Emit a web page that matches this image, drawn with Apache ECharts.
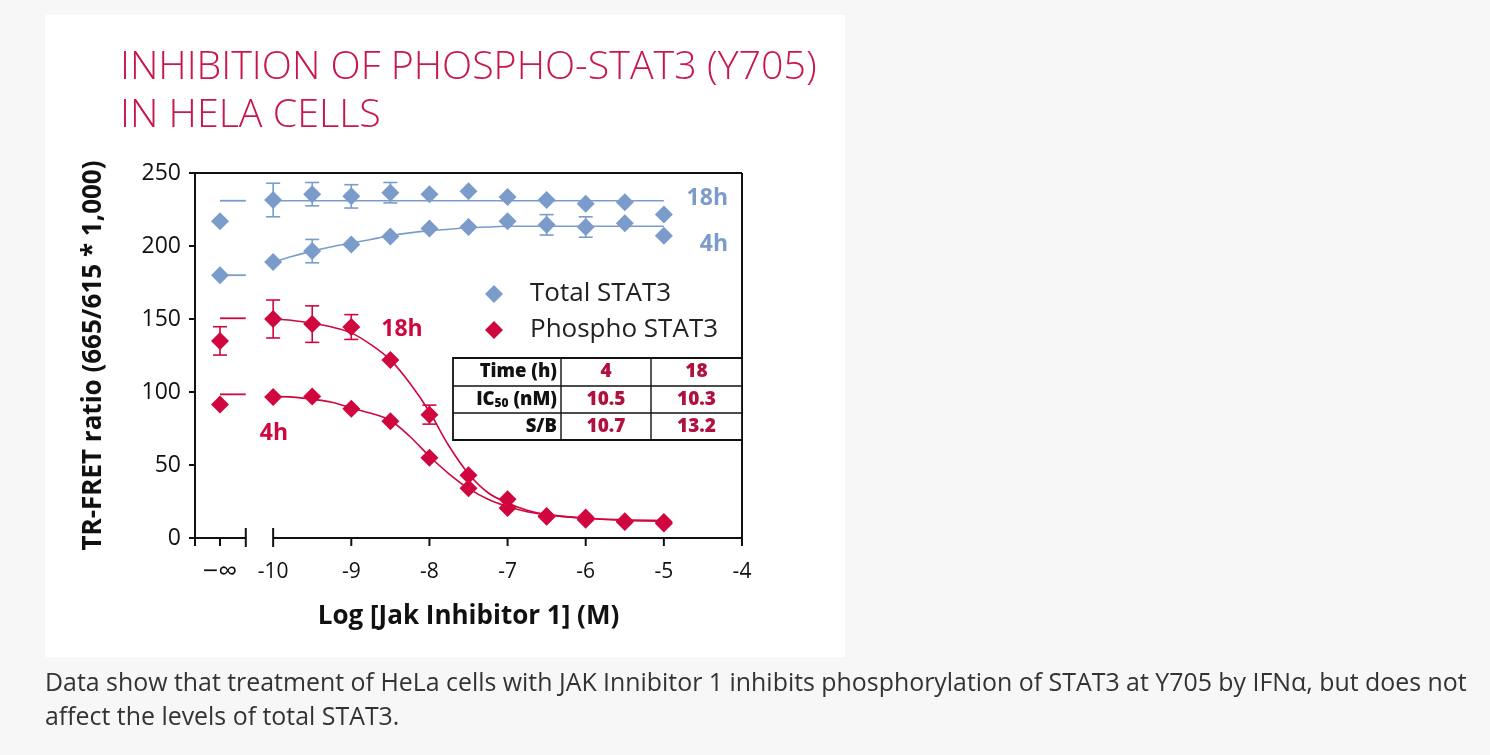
<!DOCTYPE html>
<html>
<head>
<meta charset="utf-8">
<script src="https://cdn.jsdelivr.net/npm/echarts@6/dist/echarts.min.js"></script>
<style>
html,body{margin:0;padding:0;background:#f7f7f7;}
#chart{width:1490px;height:755px;}
</style>
</head>
<body>
<div id="chart"></div>
<script>
// ---- data ----
const X_NEG_INF = -10.68;           // axis position of the "-∞" (no inhibitor) control
const doseLog = [-10, -9.5, -9, -8.5, -8, -7.5, -7, -6.5, -6, -5.5, -5];
const xTickValues = [X_NEG_INF, -10, -9, -8, -7, -6, -5, -4];
const yTickValues = [0, 50, 100, 150, 200, 250];

const total18h = [231.5, 235.5, 234, 236.5, 235.5, 237.5, 233.5, 231.5, 229, 230, 221.5];
const total18hCtrl = 217;
const total18hErr = [11.5, 8, 8, 7, 0, 0, 0, 0, 0, 0, 0];
const total4h = [189, 196.5, 201, 206.5, 212, 213, 217, 214.5, 213, 215.5, 207];
const total4hCtrl = 180;
const total4hErr = [0, 8, 0, 0, 0, 0, 0, 7, 7, 0, 0];

const phos18h = [150, 146.5, 144.5, 122, 84.5, 43, 26.5, 15, 14, 11.5, 11];
const phos18hCtrl = 135;
const phos18hCtrlErr = 9.7;
const phos18hErr = [13, 12.5, 8.5, 0, 6.5, 0, 0, 0, 0, 0, 0];
const phos4h = [96.5, 97, 88.5, 80, 55, 34, 20.5, 14.5, 12.5, 11, 10];
const phos4hCtrl = 91.5;

// fitted curves
const fitX = [-10, -9.75, -9.5, -9.25, -9, -8.75, -8.5, -8.25, -8, -7.75, -7.5, -7.25, -7, -6.75, -6.5, -6, -5.5, -5];
const total18hFit = [231, 231, 231, 231, 231, 231, 231, 231, 231, 231, 231, 231, 231, 231, 231, 231, 231, 231];
const total4hFit = [189, 193, 196.5, 199.5, 202, 204.5, 207, 209, 210.5, 211.5, 212.5, 213, 213.5, 213.5, 213.5, 213.5, 213.5, 213.5];
const phos18hFit = [150, 149, 147, 144.5, 140.5, 132.5, 122, 106, 86.5, 63, 44, 31, 24, 19, 16, 13.5, 12, 11.5];
const phos4hFit = [97, 96.5, 95, 93, 89, 85.5, 80.5, 69.5, 56, 44, 34, 26.5, 21.5, 18, 16, 13.5, 12.5, 12];
// asymptote dashes shown beside the control points
const dashX = [X_NEG_INF, -10.35];
const total18hDash = 231, total4hDash = 180, phos18hDash = 150.5, phos4hDash = 98.4;

const tableRows = [
  ['Time (h)', '4', '18'],
  ['IC50 (nM)', '10.5', '10.3'],
  ['S/B', '10.7', '13.2']
];

// ---- styles ----
const BLUE = '#7b9ccb';
const RED = '#d0073e';
const TITLE_RED = '#c8174a';
const FONT = '"Open Sans", Lato, sans-serif';

function pts(xs, ys) { return xs.map((x, i) => [x, ys[i]]); }
function errs(xs, ys, es) {
  const out = [];
  xs.forEach((x, i) => { if (es[i] > 0) out.push([x, ys[i] - es[i], ys[i] + es[i]]); });
  return out;
}

const chart = echarts.init(document.getElementById('chart'));

const errRender = color => (params, api) => {
  const x = api.value(0);
  const lo = api.coord([x, api.value(1)]);
  const hi = api.coord([x, api.value(2)]);
  const w = 7;
  const st = { stroke: color, lineWidth: 1.6 };
  return {
    type: 'group', children: [
      { type: 'line', shape: { x1: lo[0], y1: lo[1], x2: hi[0], y2: hi[1] }, style: st },
      { type: 'line', shape: { x1: lo[0] - w, y1: lo[1], x2: lo[0] + w, y2: lo[1] }, style: st },
      { type: 'line', shape: { x1: hi[0] - w, y1: hi[1], x2: hi[0] + w, y2: hi[1] }, style: st }
    ]
  };
};

const frameRender = (params, api) => {
  const c = (x, y) => api.coord([x, y]);
  const st = { stroke: '#111', lineWidth: 2 };
  const L = (a, b) => ({ type: 'line', shape: { x1: a[0], y1: a[1], x2: b[0], y2: b[1] }, style: st });
  const kids = [
    L(c(-11, 250), c(-4, 250)),
    L(c(-4, 250), c(-4, 0)),
    L(c(-11, 0), c(-10.35, 0)),
    L(c(-10, 0), c(-4, 0))
  ];
  [-11, X_NEG_INF, -9, -8, -7, -6, -5, -4].forEach(v => {
    const p = c(v, 0);
    kids.push(L(p, [p[0], p[1] + 8]));
  });
  [-10.35, -10].forEach(v => {
    const p = c(v, 0);
    kids.push(L([p[0], p[1] - 10], [p[0], p[1] + 9]));
  });
  return { type: 'group', children: kids };
};

const fitLine = (data, color) => ({
  type: 'line', data: data, smooth: 0.35, showSymbol: false, silent: true,
  lineStyle: { color: color, width: 1.6 }, z: 2
});
const dash = (yv, color) => ({
  type: 'line', data: [[dashX[0], yv], [dashX[1], yv]], showSymbol: false, silent: true,
  lineStyle: { color: color, width: 1.8 }, z: 2
});
const scat = (name, data, color) => ({
  type: 'scatter', name: name, data: data, symbol: 'diamond', symbolSize: 18,
  itemStyle: { color: color, opacity: 1 }, z: 5
});

// table graphics
const tX = [453, 561, 651, 742];
const tY = [358, 386, 413, 440];
const tableEls = [];
tableEls.push({ type: 'rect', shape: { x: tX[0], y: tY[0], width: tX[3] - tX[0], height: tY[3] - tY[0] },
  style: { fill: '#fff', stroke: '#111', lineWidth: 1.8 }, z: 10 });
[tY[1], tY[2]].forEach(y => tableEls.push({ type: 'line', shape: { x1: tX[0], y1: y, x2: tX[3], y2: y }, style: { stroke: '#111', lineWidth: 1.4 }, z: 11 }));
[tX[1], tX[2]].forEach(x => tableEls.push({ type: 'line', shape: { x1: x, y1: tY[0], x2: x, y2: tY[3] }, style: { stroke: '#111', lineWidth: 1.4 }, z: 11 }));
tableRows.forEach((row, r) => {
  const cy = (tY[r] + tY[r + 1]) / 2;
  let head = row[0];
  if (head.indexOf('IC50') === 0) {
    head = '{a|IC}{s|50}{a| (nM)}';
  } else {
    head = '{a|' + head + '}';
  }
  tableEls.push({ type: 'text', x: tX[1] - 4, y: cy, z: 12,
    style: { text: head, align: 'right', verticalAlign: 'middle',
      rich: { a: { fontFamily: FONT, fontWeight: 800, fontSize: 18.5, fill: '#111' },
              s: { fontFamily: FONT, fontWeight: 800, fontSize: 12, fill: '#111', padding: [9, 0, 0, 0] } } } });
  [1, 2].forEach(ci => {
    tableEls.push({ type: 'text', x: (tX[ci] + tX[ci + 1]) / 2, y: cy, z: 12,
      style: { text: row[ci], align: 'center', verticalAlign: 'middle', fontFamily: FONT, fontWeight: 800, fontSize: 19, fill: '#b0113f' } });
  });
});

const option = {
  backgroundColor: '#f7f7f7',
  animation: false,
  grid: { left: 195, top: 173, width: 547, height: 365, containLabel: false },
  legend: {
    orient: 'vertical', left: 480, top: 276, itemGap: 10, itemWidth: 18, itemHeight: 18,
    data: [{ name: 'Total STAT3', icon: 'diamond' }, { name: 'Phospho STAT3', icon: 'diamond' }],
    textStyle: { fontFamily: FONT, fontSize: 26, lineHeight: 22, color: '#222', padding: [0, 0, 0, 22] },
    selectedMode: false
  },
  xAxis: {
    type: 'value', min: -11, max: -4,
    axisLine: { show: false }, axisTick: { show: false }, splitLine: { show: false },
    axisLabel: {
      customValues: xTickValues, margin: 24, fontFamily: FONT, fontSize: 21, color: '#111',
      formatter: v => (Math.abs(v - X_NEG_INF) < 0.01 ? '{i|\u2212\u221e}' : String(v)),
      rich: { i: { fontFamily: FONT, fontSize: 27, color: '#111', lineHeight: 22, padding: [-2, 0, 0, 0] } }
    },
    name: 'Log [Jak Inhibitor 1] (M)', nameLocation: 'middle', nameGap: 66,
    nameTextStyle: { fontFamily: FONT, fontWeight: 'bold', fontSize: 26, color: '#111' }
  },
  yAxis: {
    type: 'value', min: 0, max: 250, interval: 50,
    axisLine: { show: true, lineStyle: { color: '#111', width: 2 } },
    axisTick: { show: true, length: 6, lineStyle: { color: '#111', width: 2 } },
    splitLine: { show: false },
    axisLabel: { margin: 14, fontFamily: FONT, fontSize: 23, color: '#111' },
    name: 'TR-FRET ratio (665/615 * 1,000)', nameLocation: 'middle', nameGap: 88,
    nameTextStyle: { fontFamily: FONT, fontWeight: 'bold', fontSize: 26, color: '#111' }
  },
  graphic: [
    { type: 'rect', shape: { x: 45, y: 15, width: 800, height: 642 }, style: { fill: '#fff' }, z: -10, silent: true },
    { type: 'text', x: 120, y: 68, style: { text: 'INHIBITION OF PHOSPHO-STAT3 (Y705)', fontFamily: FONT, fontWeight: 300, fontSize: 39.4, fill: TITLE_RED, verticalAlign: 'middle' } },
    { type: 'text', x: 120, y: 116, style: { text: 'IN HELA CELLS', fontFamily: FONT, fontWeight: 300, fontSize: 39.4, fill: TITLE_RED, verticalAlign: 'middle' } },
    { type: 'text', x: 728, y: 198, style: { text: '18h', align: 'right', verticalAlign: 'middle', fontFamily: FONT, fontWeight: 'bold', fontSize: 23, fill: BLUE } },
    { type: 'text', x: 728, y: 244, style: { text: '4h', align: 'right', verticalAlign: 'middle', fontFamily: FONT, fontWeight: 'bold', fontSize: 23, fill: BLUE } },
    { type: 'text', x: 402, y: 329, style: { text: '18h', align: 'center', verticalAlign: 'middle', fontFamily: FONT, fontWeight: 'bold', fontSize: 23, fill: RED } },
    { type: 'text', x: 274, y: 433, style: { text: '4h', align: 'center', verticalAlign: 'middle', fontFamily: FONT, fontWeight: 'bold', fontSize: 23, fill: RED } },
    { type: 'text', x: 45, y: 684, style: { text: 'Data show that treatment of HeLa cells with JAK Innibitor 1 inhibits phosphorylation of STAT3 at Y705 by IFN\u03b1, but does not', fontFamily: '"Open Sans", sans-serif', fontSize: 24.9, fill: '#333', verticalAlign: 'middle' } },
    { type: 'text', x: 45, y: 718, style: { text: 'affect the levels of total STAT3.', fontFamily: '"Open Sans", sans-serif', fontSize: 24.9, fill: '#333', verticalAlign: 'middle' } }
  ].concat(tableEls),
  series: [
    { type: 'custom', renderItem: frameRender, data: [[0, 0]], silent: true, clip: false, z: 1 },
    fitLine(pts(fitX, total18hFit), BLUE),
    fitLine(pts(fitX, total4hFit), BLUE),
    fitLine(pts(fitX, phos18hFit), RED),
    fitLine(pts(fitX, phos4hFit), RED),
    dash(total18hDash, BLUE), dash(total4hDash, BLUE), dash(phos18hDash, RED), dash(phos4hDash, RED),
    { type: 'custom', renderItem: errRender(BLUE), data: errs(doseLog, total18h, total18hErr).concat(errs(doseLog, total4h, total4hErr)), silent: true, z: 3 },
    { type: 'custom', renderItem: errRender(RED), data: errs(doseLog, phos18h, phos18hErr).concat([[X_NEG_INF, phos18hCtrl - phos18hCtrlErr, phos18hCtrl + phos18hCtrlErr]]), silent: true, z: 3 },
    scat('Total STAT3', pts(doseLog, total18h).concat([[X_NEG_INF, total18hCtrl]]), BLUE),
    scat('Total STAT3', pts(doseLog, total4h).concat([[X_NEG_INF, total4hCtrl]]), BLUE),
    scat('Phospho STAT3', pts(doseLog, phos18h).concat([[X_NEG_INF, phos18hCtrl]]), RED),
    scat('Phospho STAT3', pts(doseLog, phos4h).concat([[X_NEG_INF, phos4hCtrl]]), RED)
  ]
};
chart.setOption(option);
</script>
</body>
</html>
